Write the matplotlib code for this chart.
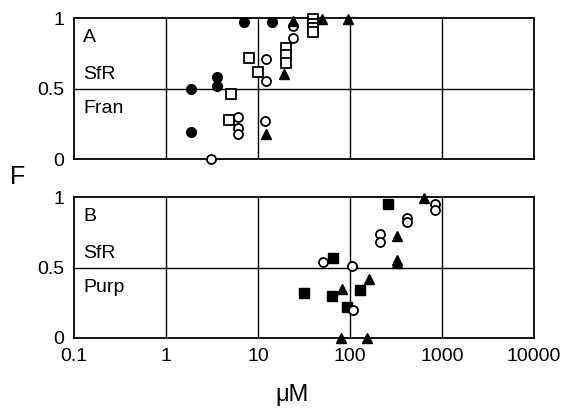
import matplotlib
matplotlib.use("Agg")
import matplotlib.pyplot as plt

plt.rcParams['font.family'] = ['Liberation Sans', 'DejaVu Sans']

# ---- panel A (SfR / Fran) ----
a_fcirc_x = [7.0, 14.2, 3.6, 3.6, 1.87, 1.87]
a_fcirc_y = [0.97, 0.97, 0.58, 0.52, 0.50, 0.19]
a_osq_x = [40, 40, 40, 40, 20, 20, 20, 8.0, 10.1, 5.1, 4.8]
a_osq_y = [0.99, 0.96, 0.93, 0.90, 0.79, 0.74, 0.68, 0.72, 0.62, 0.46, 0.28]
a_ocirc_x = [24, 24, 12.2, 12.2, 6.1, 6.1, 6.1, 12, 3.1]
a_ocirc_y = [0.94, 0.86, 0.71, 0.55, 0.30, 0.22, 0.18, 0.27, 0.0]
a_tri_x = [24, 50, 95, 19, 12.2]
a_tri_y = [0.98, 0.99, 0.99, 0.60, 0.18]

# ---- panel B (SfR / Purp) ----
b_fsq_x = [259, 65, 31.6, 64, 128, 93]
b_fsq_y = [0.95, 0.57, 0.32, 0.30, 0.34, 0.22]
b_ocirc_x = [840, 840, 417, 417, 212, 212, 51, 105, 108]
b_ocirc_y = [0.95, 0.91, 0.85, 0.82, 0.74, 0.68, 0.54, 0.51, 0.20]
b_tri_x = [630, 324, 324, 324, 82, 161, 80, 155]
b_tri_y = [0.99, 0.72, 0.55, 0.53, 0.35, 0.42, 0.0, 0.0]

xticks = [0.1, 1, 10, 100, 1000, 10000]
xticklabels = ["0.1", "1", "10", "100", "1000", "10000"]
yticks = [0, 0.5, 1]
yticklabels = ["0", "0.5", "1"]

fig = plt.figure(figsize=(5.7, 4.09), dpi=100)
axA = fig.add_axes([0.1298, 0.6112, 0.807, 0.3447])
axB = fig.add_axes([0.1298, 0.1736, 0.807, 0.3447])

ms = 7
def filled(ax, x, y, m):
    ax.plot(x, y, ls="none", marker=m, ms=ms, mfc="k", mec="k", clip_on=False, zorder=3)
def hollow(ax, x, y, m):
    ax.plot(x, y, ls="none", marker=m, ms=ms - 0.5, mfc="white", mec="k", mew=1.3, clip_on=False, zorder=3)

filled(axA, a_fcirc_x, a_fcirc_y, "o")
hollow(axA, a_osq_x, a_osq_y, "s")
hollow(axA, a_ocirc_x, a_ocirc_y, "o")
filled(axA, a_tri_x, a_tri_y, "^")

filled(axB, b_fsq_x, b_fsq_y, "s")
hollow(axB, b_ocirc_x, b_ocirc_y, "o")
filled(axB, b_tri_x, b_tri_y, "^")

for ax, lab, sub in [(axA, "A", "Fran"), (axB, "B", "Purp")]:
    ax.set_xscale("log")
    ax.set_xlim(0.1, 10000)
    ax.set_ylim(0, 1)
    for v in xticks[1:-1]:
        ax.axvline(v, color="k", lw=1.0, zorder=1)
    ax.axhline(0.5, color="k", lw=1.0, zorder=1)
    for s in ax.spines.values():
        s.set_linewidth(1.3)
    ax.set_yticks(yticks)
    ax.set_yticklabels(yticklabels, fontsize=14)
    ax.set_xticks(xticks)
    ax.minorticks_off()
    ax.tick_params(length=0, pad=7)
    ax.text(0.02, 0.86, lab, transform=ax.transAxes, fontsize=14, va="center")
    ax.text(0.02, 0.60, "SfR", transform=ax.transAxes, fontsize=14, va="center")
    ax.text(0.02, 0.36, sub, transform=ax.transAxes, fontsize=14, va="center")

axA.set_xticklabels([])
axB.set_xticklabels(xticklabels, fontsize=14)

fig.text(292 / 570, 1 - 395 / 409, "\u03bcM", fontsize=17, ha="center", va="center")
fig.text(18 / 570, 1 - 177 / 409, "F", fontsize=18, ha="center", va="center")

fig.savefig("out.png", dpi=100)
